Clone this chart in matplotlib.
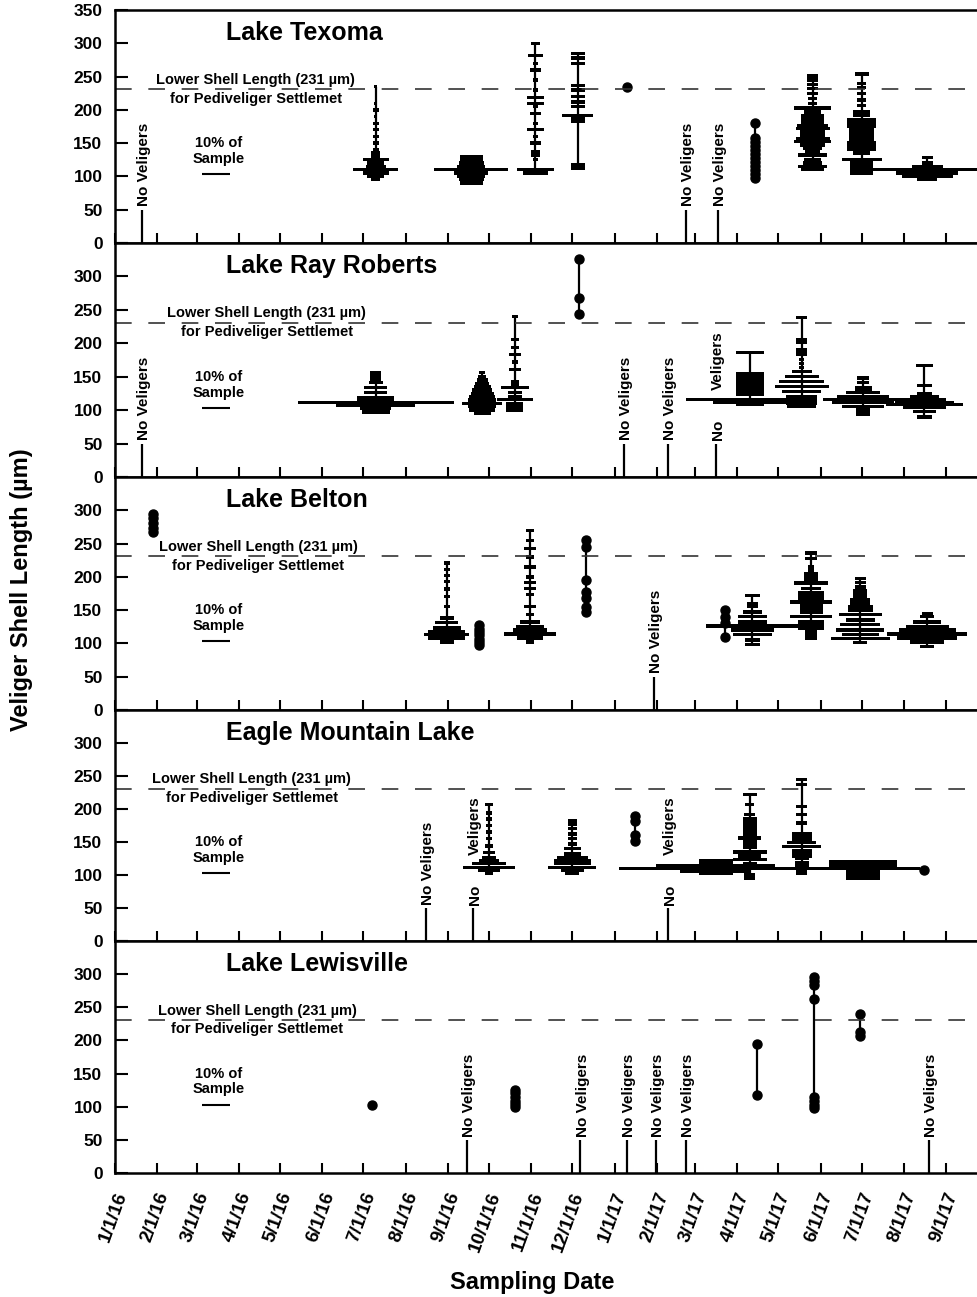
import matplotlib
matplotlib.use('Agg')
import matplotlib.pyplot as plt
import matplotlib.dates as mdates
import matplotlib.transforms as mtransforms
import numpy as np
from datetime import date

plt.rcParams['font.family'] = ['Liberation Sans', 'DejaVu Sans']
plt.rcParams['font.weight'] = 'bold'
plt.rcParams['axes.linewidth'] = 1.8

# ---------------- Lake Texoma ----------------
texoma_none = ['2016-01-21', '2017-02-22', '2017-03-18']
texoma_none_split = []
texoma_dates = ['2016-07-10', '2016-09-18', '2016-11-04', '2016-12-05',
                '2017-05-26', '2017-07-01', '2017-08-18']
texoma_sizes = [
    [95, 100, 105, 110, 115, 120, 125, 130, 135, 140, 150, 160, 170, 180, 190, 200, 210, 235],
    [90, 95, 100, 105, 110, 115, 120, 125, 130],
    [105, 110, 125, 132, 137, 150, 160, 170, 180, 195, 205, 210, 219, 230, 245, 260, 270, 282, 300],
    [112, 117, 183, 187, 192, 205, 212, 220, 230, 237, 270, 278, 285],
    [110, 115, 120, 125, 132, 137, 142, 147, 152, 157, 162, 167, 172, 177, 182, 187, 192, 197,
     203, 210, 217, 225, 232, 238, 245, 251],
    [105, 110, 115, 120, 125, 135, 140, 145, 150, 155, 160, 165, 170, 175, 180, 185, 192, 197,
     207, 215, 225, 234, 240, 254],
    [95, 100, 105, 110, 115, 120, 128],
]
texoma_pcts = [
    [3, 6, 9, 16, 7, 6, 9, 3, 3, 2, 2, 2, 2, 2, 1, 2, 1, 1],
    [8, 9, 10, 12, 26, 10, 9, 8, 8],
    [9, 13, 2, 3, 3, 4, 2, 6, 2, 4, 2, 6, 6, 2, 2, 4, 2, 5, 3],
    [5, 5, 5, 5, 11, 5, 5, 5, 5, 5, 5, 5, 5],
    [8, 10, 7, 6, 10, 5, 7, 9, 13, 12, 9, 9, 12, 11, 8, 8, 8, 6, 13, 3, 3, 4, 4, 4, 4, 4],
    [8, 8, 8, 8, 14, 6, 10, 10, 10, 9, 9, 9, 9, 10, 10, 10, 6, 6, 3, 3, 3, 3, 3, 5],
    [7, 18, 22, 42, 11, 4, 4],
]
texoma_dot_dates = ['2017-01-10', '2017-04-14']
texoma_dot_sizes = [[234], [98, 104, 110, 116, 122, 128, 134, 140, 146, 152, 158, 181]]

# ---------------- Lake Ray Roberts ----------------
rr_none = ['2016-01-21', '2017-01-08', '2017-02-09']
rr_none_split = ['2017-03-16']
rr_dates = ['2016-07-10', '2016-09-26', '2016-10-20', '2017-04-10',
            '2017-05-18', '2017-07-02', '2017-08-16']
rr_sizes = [
    [97, 102, 107, 111, 115, 119, 126, 134, 141, 146, 151, 156],
    [95, 100, 105, 110, 115, 120, 125, 130, 135, 140, 145, 150, 156],
    [100, 105, 110, 116, 120, 126, 134, 138, 143, 161, 172, 183, 194, 206, 240],
    [108, 111, 116, 123, 127, 131, 135, 140, 145, 150, 155, 186],
    [105, 110, 115, 120, 128, 135, 143, 150, 158, 164, 170, 176, 183, 187, 191, 201, 206, 239],
    [93, 97, 101, 105, 111, 116, 120, 126, 130, 134, 141, 148],
    [90, 98, 104, 108, 111, 116, 120, 125, 137, 167],
]
rr_pcts = [
    [10, 11, 28, 55, 13, 13, 8, 8, 5, 4, 4, 4],
    [6, 9, 10, 14, 10, 9, 8, 7, 6, 5, 4, 3, 2],
    [6, 6, 6, 13, 5, 5, 10, 3, 3, 4, 2, 4, 3, 3, 2],
    [10, 26, 45, 10, 10, 10, 10, 10, 10, 10, 10, 10],
    [10, 11, 11, 11, 14, 19, 16, 12, 7, 2, 2, 2, 4, 4, 4, 4, 4, 4],
    [5, 5, 5, 15, 22, 28, 18, 12, 6, 6, 4, 4],
    [5, 8, 15, 27, 21, 15, 10, 5, 5, 6],
]
rr_dot_dates = ['2016-12-06']
rr_dot_sizes = [[244, 268, 326]]

# ---------------- Lake Belton ----------------
belton_none = ['2017-01-30']
belton_none_split = []
belton_dates = ['2016-08-31', '2016-10-31', '2017-04-12', '2017-05-25',
                '2017-06-30', '2017-08-18']
belton_sizes = [
    [102, 108, 113, 117, 123, 131, 138, 155, 170, 182, 193, 202, 211, 221],
    [102, 108, 114, 120, 125, 132, 143, 155, 173, 183, 192, 200, 215, 230, 243, 255, 270],
    [98, 105, 113, 120, 126, 132, 140, 147, 155, 160, 172],
    [108, 113, 118, 123, 128, 132, 140, 147, 152, 156, 162, 168, 172, 176, 183, 191, 195,
     200, 205, 210, 215, 228, 236],
    [101, 107, 113, 120, 128, 135, 143, 150, 155, 160, 165, 170, 175, 180, 185, 192, 198],
    [95, 102, 108, 114, 120, 125, 132, 140, 145],
]
belton_pcts = [
    [5, 13, 16, 13, 10, 8, 5, 2, 2, 2, 2, 2, 2, 2],
    [3, 9, 18, 12, 10, 7, 3, 4, 3, 4, 4, 3, 4, 3, 4, 3, 3],
    [5, 5, 14, 15, 33, 10, 10, 7, 4, 4, 5],
    [4, 4, 4, 9, 9, 9, 15, 8, 8, 8, 15, 9, 9, 9, 7, 12, 5, 5, 5, 2, 2, 4, 4],
    [5, 21, 13, 17, 14, 10, 15, 9, 9, 7, 7, 5, 5, 5, 4, 4, 4],
    [5, 12, 21, 28, 20, 15, 10, 5, 4],
]
belton_dot_dates = ['2016-01-29', '2016-09-24', '2016-12-11', '2017-03-23']
belton_dot_sizes = [[268, 274, 281, 288, 294],
                    [97, 102, 107, 112, 117, 122, 127],
                    [147, 155, 168, 177, 195, 245, 255],
                    [110, 131, 140, 150]]

# ---------------- Eagle Mountain Lake ----------------
eagle_none = ['2016-08-16']
eagle_none_split = ['2016-09-19', '2017-02-09']
eagle_dates = ['2016-10-01', '2016-12-01', '2017-03-16', '2017-04-10',
               '2017-05-18', '2017-07-02']
eagle_sizes = [
    [102, 107, 111, 117, 122, 126, 134, 144, 155, 165, 175, 185, 194, 207],
    [102, 107, 111, 117, 122, 126, 132, 140, 147, 155, 162, 170, 176, 182],
    [102, 106, 110, 114, 118, 122],
    [95, 100, 117, 123, 129, 135, 142, 147, 152, 156, 162, 167, 172, 177, 181, 185, 192, 207, 222],
    [102, 107, 111, 114, 119, 125, 129, 133, 137, 143, 149, 152, 157, 162, 179, 192, 204, 237, 245],
    [95, 100, 105, 110, 115, 120],
]
eagle_pcts = [
    [3, 8, 18, 12, 7, 5, 4, 3, 2, 2, 2, 2, 2, 3],
    [5, 8, 17, 13, 13, 11, 6, 6, 3, 3, 3, 3, 3, 3],
    [12, 25, 68, 42, 12, 12],
    [4, 4, 5, 12, 8, 12, 5, 5, 5, 8, 5, 5, 5, 5, 5, 5, 4, 3, 5],
    [4, 4, 4, 5, 5, 5, 7, 7, 7, 14, 10, 7, 7, 7, 4, 4, 4, 4, 4],
    [12, 12, 12, 40, 24, 24],
]
eagle_dot_dates = ['2017-01-16', '2017-08-16']
eagle_dot_sizes = [[152, 160, 182, 189], [107]]

# ---------------- Lake Lewisville ----------------
lew_none = ['2016-09-15', '2016-12-07', '2017-01-10', '2017-01-31', '2017-02-22', '2017-08-19']
lew_none_split = []
lew_dates, lew_sizes, lew_pcts = [], [], []
lew_dot_dates = ['2016-07-07', '2016-10-20', '2017-04-15', '2017-05-27', '2017-06-30']
lew_dot_sizes = [[103],
                 [99, 104, 109, 114, 120, 125],
                 [118, 195],
                 [98, 102, 108, 115, 262, 283, 290, 296],
                 [206, 212, 240]]

lake_names = ['Lake Texoma', 'Lake Ray Roberts', 'Lake Belton',
              'Eagle Mountain Lake', 'Lake Lewisville']
SETTLE_LEN = 231
SCALE_PCT = 10

lakes = [
    (texoma_none, texoma_none_split, texoma_dates, texoma_sizes, texoma_pcts,
     texoma_dot_dates, texoma_dot_sizes),
    (rr_none, rr_none_split, rr_dates, rr_sizes, rr_pcts, rr_dot_dates, rr_dot_sizes),
    (belton_none, belton_none_split, belton_dates, belton_sizes, belton_pcts,
     belton_dot_dates, belton_dot_sizes),
    (eagle_none, eagle_none_split, eagle_dates, eagle_sizes, eagle_pcts,
     eagle_dot_dates, eagle_dot_sizes),
    (lew_none, lew_none_split, lew_dates, lew_sizes, lew_pcts, lew_dot_dates, lew_dot_sizes),
]

# layout: pixel rows of each panel, and where the annotation text sits
W, H = 977, 1297
rows = [(10, 243), (243, 477), (477, 710), (710, 941), (941, 1173)]
note_x = ['2016-04-13', '2016-04-21', '2016-04-15', '2016-04-10', '2016-04-14']
DAYS_PER_PCT = 2.08   # bar width on the date axis for 1 % of the sample
BAR_H = 5.0

dn = mdates.datestr2num
months = [date(2016 + m // 12, m % 12 + 1, 1) for m in range(21)]
month_labels = [f'{t.month}/{t.day}/{t.year % 100}' for t in months]

fig = plt.figure(figsize=(W / 100, H / 100), dpi=100)

for i, (name, lake) in enumerate(zip(lake_names, lakes)):
    none, none_split, dates, sizes, pcts, dot_dates, dot_sizes = lake
    top, bot = rows[i]
    ax = fig.add_axes([115 / W, 1 - bot / H, (990 - 115) / W, (bot - top) / H])

    # percent-of-sample bars for each sampling date
    for dstr, s, p in zip(dates, sizes, pcts):
        x = dn(dstr)
        s = np.array(s, dtype=float)
        w = np.array(p, dtype=float) * DAYS_PER_PCT
        ax.vlines(x, s.min(), s.max(), color='black', lw=1.6)
        ax.barh(s, w, height=BAR_H, left=x - w / 2, color='black', lw=0)

    # samples with only a few veligers
    for dstr, s in zip(dot_dates, dot_sizes):
        x = dn(dstr)
        ax.plot([x] * len(s), s, '-o', color='black', ms=6.5, lw=1.6)

    # dates with no veligers collected
    for dstr in none:
        x = dn(dstr)
        ax.vlines(x, 0, 50, color='black', lw=1.6)
        ax.text(x + 1.5, 55, 'No Veligers', rotation=90, ha='center', va='bottom',
                fontsize=11)
    for dstr in none_split:
        x = dn(dstr)
        ax.vlines(x, 0, 50, color='black', lw=1.6)
        ax.text(x + 1.5, 55, 'No', rotation=90, ha='center', va='bottom', fontsize=11)
        ax.text(x + 1.5, 130, 'Veligers', rotation=90, ha='center', va='bottom', fontsize=11)

    # settlement threshold
    ax.axhline(SETTLE_LEN, color='#333333', lw=1.2, dashes=(10, 10))
    nx = dn(note_x[i])
    ax.text(nx, 245, f'Lower Shell Length ({SETTLE_LEN} µm)', ha='center', va='center',
            fontsize=10.5)
    ax.text(nx, 217, 'for Pediveliger Settlemet', ha='center', va='center', fontsize=10.5)

    # scale bar for 10 % of sample
    sx = dn('2016-03-15')
    ax.text(sx + 2, 150, f'{SCALE_PCT}% of', ha='center', va='center', fontsize=10.5)
    ax.text(sx + 2, 126, 'Sample', ha='center', va='center', fontsize=10.5)
    ax.hlines(103, sx - SCALE_PCT / 2 * DAYS_PER_PCT, sx + SCALE_PCT / 2 * DAYS_PER_PCT,
              color='black', lw=1.5)

    ax.text(dn('2016-03-22'), 315, name, ha='left', va='center', fontsize=18)

    ax.set_xlim(dn('2016-01-01'), dn('2017-10-03'))
    ax.set_ylim(0, 350)
    ax.set_yticks(range(0, 351, 50))
    ax.set_yticklabels([str(v) if (v < 350 or i == 0) else '' for v in range(0, 351, 50)])
    ax.tick_params(axis='y', direction='in', length=9, width=1.5, labelsize=12.5, pad=9)
    ax.set_xticks([mdates.date2num(t) for t in months])
    ax.tick_params(axis='x', direction='in', length=7.5, width=1.5, labelsize=13.5, pad=14)
    if i < 4:
        ax.set_xticklabels([])
    else:
        ax.set_xticklabels(month_labels, rotation=70, ha='right', va='center',
                           rotation_mode='anchor')
        shift = mtransforms.ScaledTranslation(7 / 100, 0, fig.dpi_scale_trans)
        for lbl in ax.get_xticklabels():
            lbl.set_transform(lbl.get_transform() + shift)

fig.text(22 / W, 1 - 590 / H, 'Veliger Shell Length (µm)', rotation=90,
         ha='center', va='center', fontsize=17)
fig.text(532 / W, 1 - 1282 / H, 'Sampling Date', ha='center', va='center', fontsize=17)

fig.savefig('out.png', dpi=100, facecolor='white')
